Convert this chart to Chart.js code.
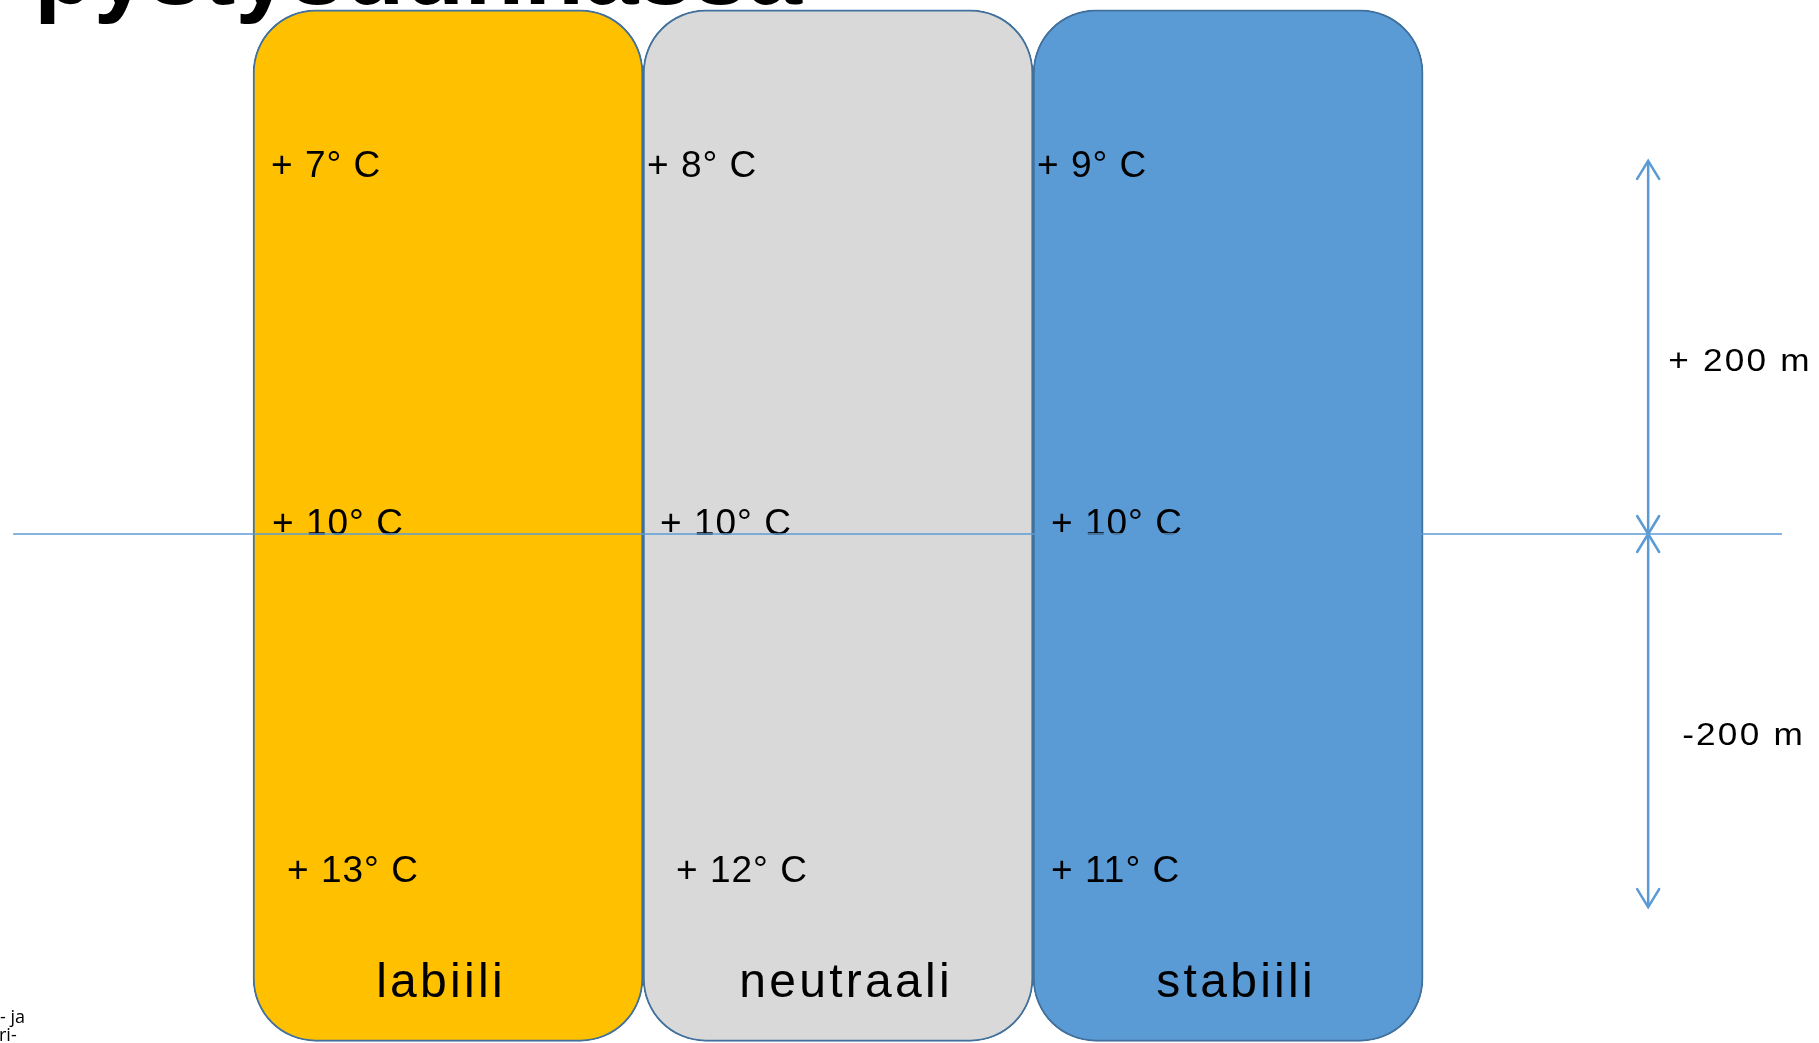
<!DOCTYPE html>
<html>
<head>
<meta charset="utf-8">
<title>Ilman stabiilisuus</title>
<script src="https://cdn.jsdelivr.net/npm/chart.js@4.4.1/dist/chart.umd.min.js"></script>
<style>
    html, body { margin: 0; padding: 0; background: #fff; overflow: hidden; }
    canvas { display: block; }
</style>
</head>
<body>
<canvas id="stabilityChart" width="1819" height="1043"></canvas>
<script>
// Data
const categories = ['labiili', 'neutraali', 'stabiili'];
const categoryPos = [1, 2, 3];
const boxRange = [-272, 281];          // altitude span of each column (m)
const rowLevels = [200, 0, -200];      // altitude of each temperature row (m)
const labiiliTemps = [7, 10, 13];
const neutraaliTemps = [8, 10, 12];
const stabiiliTemps = [9, 10, 11];
const heightSteps = [200, -200];
const heightLabels = ['+ 200 m', '-200 m'];
const baseLevel = 0;
const baseLineSpan = [-0.115, 4.42];
const arrowPos = 4.077;

const temps = [labiiliTemps, neutraaliTemps, stabiiliTemps];

// Colours
const fills = ['#FFC000', '#D9D9D9', '#5B9BD5'];
const edge = '#41719C';
const lineBlue = '#5B9BD5';

// Layout tweaks for the labels (px)
const rowDy = [16, 1, -25];
const tempDx = [[18, 4, 4], [19, 17, 18], [34, 33, 18]];
const nameDx = [-7, 8, 8];
const heightDx = [20, 34];

function drawWide(ctx, text, x, y, sx) {
    ctx.save();
    ctx.translate(x, y);
    ctx.scale(sx, 1);
    ctx.fillText(text, 0, 0);
    ctx.restore();
}

function chevron(ctx, x, y, dir) {
    // dir = -1 points up, 1 points down
    ctx.beginPath();
    ctx.moveTo(x - 11, y - dir * 18);
    ctx.lineTo(x, y);
    ctx.lineTo(x + 11, y - dir * 18);
    ctx.stroke();
}

const labelPlugin = {
    id: 'labels',
    afterDatasetDraw(chart, args) {
        if (args.index !== 0) return;
        const ctx = chart.ctx;
        const y = chart.scales.y;
        ctx.save();
        ctx.fillStyle = '#000';
        ctx.textBaseline = 'alphabetic';

        // temperatures
        ctx.font = '37px "Liberation Sans", Arial, sans-serif';
        ctx.letterSpacing = '1px';
        ctx.textAlign = 'left';
        args.meta.data.forEach((bar, c) => {
            const left = bar.x - bar.width / 2;
            rowLevels.forEach((lvl, r) => {
                ctx.fillText('+ ' + temps[c][r] + '° C', left + tempDx[r][c], y.getPixelForValue(lvl) + rowDy[r]);
            });
        });

        // column names
        ctx.font = '48px "Liberation Sans", Arial, sans-serif';
        ctx.textAlign = 'center';
        ctx.letterSpacing = '3.3px';
        args.meta.data.forEach((bar, c) => {
            ctx.fillText(categories[c], bar.x + nameDx[c], y.getPixelForValue(boxRange[0]) - 44);
        });
        ctx.restore();
    },
    afterDatasetsDraw(chart) {
        const ctx = chart.ctx;
        const xs = chart.scales.x;
        const ys = chart.scales.y;
        const ax = xs.getPixelForValue(arrowPos);
        const base = ys.getPixelForValue(baseLevel);

        ctx.save();
        // arrow heads at both ends of each height arrow
        ctx.strokeStyle = lineBlue;
        ctx.lineWidth = 2.5;
        ctx.lineCap = 'round';
        heightSteps.forEach(step => {
            const p1 = ys.getPixelForValue(step);
            const dir = p1 < base ? -1 : 1;
            chevron(ctx, ax, p1, dir);
            chevron(ctx, ax, base, -dir);
        });

        // height labels, centred on each arrow half
        ctx.fillStyle = '#000';
        ctx.font = '32px "Liberation Sans", Arial, sans-serif';
        ctx.letterSpacing = '2px';
        ctx.textAlign = 'left';
        ctx.textBaseline = 'alphabetic';
        heightSteps.forEach((step, i) => {
            const mid = (base + ys.getPixelForValue(step)) / 2;
            drawWide(ctx, heightLabels[i], ax + heightDx[i], mid + 24, 1.1);
        });
        ctx.restore();
    },
    afterDraw(chart) {
        const ctx = chart.ctx;
        ctx.save();
        ctx.fillStyle = '#000';
        ctx.textAlign = 'left';
        ctx.textBaseline = 'alphabetic';
        // slide title, mostly cut off above the picture
        ctx.font = 'bold 98px "Liberation Sans", Arial, sans-serif';
        ctx.fillText('pystysuunnassa', 34, 4);
        // cut-off side note
        ctx.font = '18px "Open Sans", sans-serif';
        ctx.fillText('- ja', 0, 1023);
        ctx.fillText('ri-', -1, 1041);
        ctx.restore();
    }
};

const chart = new Chart(document.getElementById('stabilityChart'), {
    type: 'bar',
    data: {
        datasets: [
            {
                type: 'bar',
                data: categoryPos.map(x => ({ x: x, y: boxRange })),
                backgroundColor: fills,
                borderColor: edge,
                borderWidth: 2,
                borderRadius: 63,
                borderSkipped: false,
                barPercentage: 1,
                categoryPercentage: 1,
                order: 2
            },
            {
                type: 'line',
                data: baseLineSpan.map(x => ({ x: x, y: baseLevel })),
                borderColor: lineBlue,
                borderWidth: 1.5,
                pointRadius: 0,
                order: 1
            },
            ...heightSteps.map(step => ({
                type: 'line',
                data: [{ x: arrowPos, y: baseLevel }, { x: arrowPos, y: step }],
                borderColor: lineBlue,
                borderWidth: 2.5,
                pointRadius: 0,
                order: 1
            }))
        ]
    },
    options: {
        responsive: false,
        animation: false,
        layout: { padding: 0 },
        plugins: {
            legend: { display: false },
            tooltip: { enabled: false },
            title: { display: false }
        },
        scales: {
            x: {
                type: 'linear',
                display: false,
                offset: false,
                min: -0.1487,
                max: 4.515,
                ticks: { stepSize: 1, includeBounds: false }
            },
            y: {
                type: 'linear',
                display: false,
                min: -272.9,
                max: 286.3
            }
        }
    },
    plugins: [labelPlugin]
});
</script>
</body>
</html>
